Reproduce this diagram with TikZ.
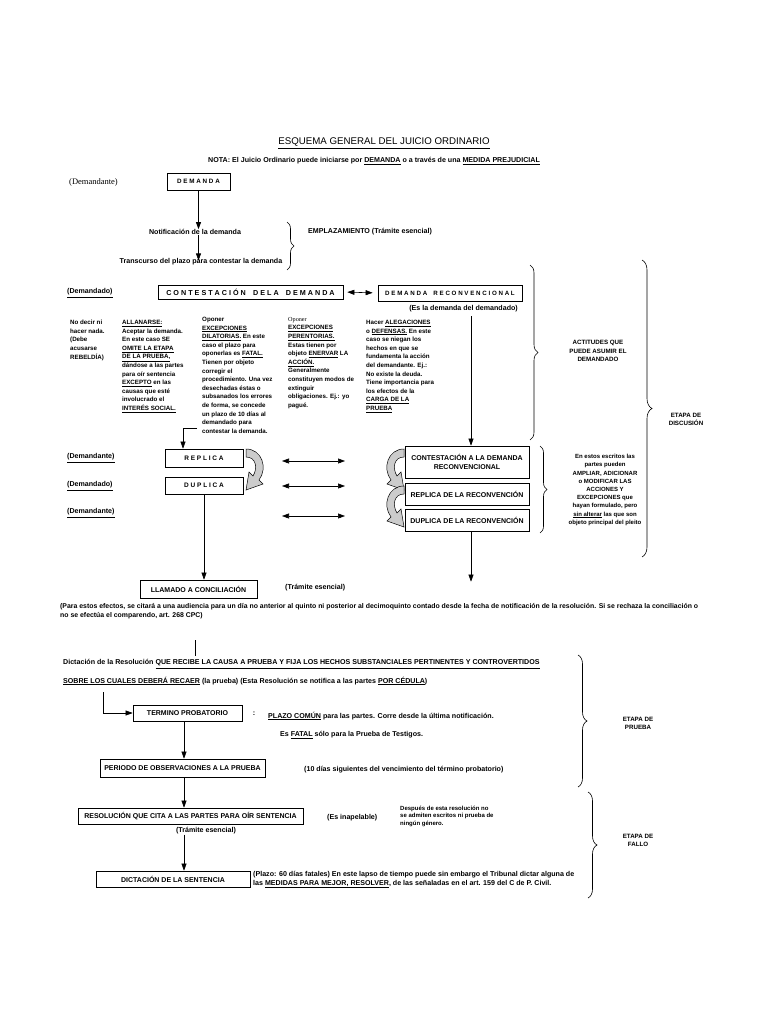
\documentclass[tikz,border=0pt]{standalone}
\usepackage{fontspec}
\setmainfont{Liberation Sans}
\newfontfamily\seriffam{Liberation Serif}
\usetikzlibrary{arrows.meta,decorations.pathreplacing}
\begin{document}
\begin{tikzpicture}[x=1pt,y=-1pt,
  sm/.style={font=\fontsize{6.2}{8.6}\selectfont\bfseries, inner sep=0pt, align=left},
  md/.style={font=\fontsize{7.1}{8.6}\selectfont\bfseries, inner sep=0pt, align=left},
  smc/.style={font=\fontsize{6.2}{8.2}\selectfont\bfseries, inner sep=0pt, align=center},
  bx/.style={draw, line width=0.7pt, inner sep=0pt, align=center, font=\fontsize{7}{8.5}\selectfont\bfseries},
  arr/.style={-{Triangle[length=7pt,width=5pt]}, line width=0.6pt},
  darr/.style={{Triangle[length=7pt,width=5pt]}-{Triangle[length=7pt,width=5pt]}, line width=0.6pt},
  ln/.style={line width=0.6pt},
  brc/.style={decorate, decoration={brace, amplitude=7pt}, line width=0.6pt},
  curv/.style={fill=gray!40, draw=black, line width=0.5pt},
]
\path[use as bounding box, fill=white] (0,0) rectangle (768,1024);

% title
\node[font=\fontsize{9.7}{10}\selectfont, inner sep=0pt] (title) at (384,143) {\underline{ESQUEMA GENERAL DEL JUICIO ORDINARIO}};
\node[md, anchor=west] (nota) at (208,161) {NOTA: El Juicio Ordinario puede iniciarse por \underline{DEMANDA} o a través de una \underline{MEDIDA PREJUDICIAL}};

% demanda
\node[font=\seriffam\fontsize{8.5}{9}\selectfont, anchor=west, inner sep=0pt] (dte0) at (69,182) {(Demandante)};
\node[bx, minimum width=63, minimum height=17, font=\fontsize{6.3}{8}\selectfont\bfseries] (dem) at (198.5,181.5) {D E M A N D A};
\node[md, anchor=center] (notif) at (195,232) {Notificación de la demanda};
\node[md, anchor=center] (trans) at (201,262) {Transcurso del plazo para contestar la demanda};
\draw[arr] (dem.south) -- (dem.south |- notif.north);
\draw[arr] (dem.south |- notif.south) -- ([yshift=-2pt]dem.south |- trans.north);
\coordinate (e1) at (287,222);
\coordinate (e2) at (287,270);
\draw[brc] (e1) -- (e2);
\node[md, anchor=west] (empl) at (308,232) {EMPLAZAMIENTO (Trámite esencial)};

% contestacion
\node[md, anchor=west] (ddo1) at (67,293) {\underline{(Demandado)}};
\node[bx, minimum width=185, minimum height=14, font=\fontsize{7.2}{8}\selectfont\bfseries] (cont) at (250.5,292) {C O N T E S T A C I Ó N\quad D E L A\quad D E M A N D A};
\node[bx, minimum width=144, minimum height=16, font=\fontsize{6.2}{8}\selectfont\bfseries] (recon) at (450,293) {D E M A N D A\quad R E C O N V E N C I O N A L};
\draw[darr, shorten <=4pt, shorten >=5pt] (cont.east) -- (recon.west);
\node[md, anchor=east] (esla) at (518,309) {(Es la demanda del demandado)};

% columns
\node[sm, anchor=north west] (c1) at (70,320) {No decir ni\\hacer nada.\\(Debe\\acusarse\\REBELDÍA)};
\node[sm, anchor=north west] (c2) at (122,320) {\underline{ALLANARSE:}\\Aceptar la demanda.\\En este caso SE\\\underline{OMITE LA ETAPA}\\\underline{DE LA PRUEBA,}\\dándose a las partes\\para oír sentencia\\\underline{EXCEPTO} en las\\causas que esté\\involucrado el\\\underline{INTERÉS SOCIAL.}};
\node[sm, anchor=north west] (c3) at (202,317) {Oponer\\\underline{EXCEPCIONES}\\\underline{DILATORIAS.} En este\\caso el plazo para\\oponerlas es \underline{FATAL.}\\Tienen por objeto\\corregir el\\procedimiento. Una vez\\desechadas éstas o\\subsanados los errores\\de forma, se concede\\un plazo de 10 días al\\demandado para\\contestar la demanda.};
\node[sm, anchor=north west] (c4) at (288,317) {{\seriffam\mdseries Oponer}\\\underline{EXCEPCIONES}\\\underline{PERENTORIAS.}\\Estas tienen por\\objeto \underline{ENERVAR} LA\\\underline{ACCIÓN.}\\Generalmente\\constituyen modos de\\extinguir\\obligaciones. Ej.: yo\\pagué.};
\node[sm, anchor=north west] (c5) at (366,320) {Hacer \underline{ALEGACIONES}\\o \underline{DEFENSAS.} En este\\caso se niegan los\\hechos en que se\\fundamenta la acción\\del demandante. Ej.:\\No existe la deuda.\\Tiene importancia para\\los efectos de la\\\underline{CARGA DE LA}\\\underline{PRUEBA}};

% actitudes brace
\coordinate (a1) at (530,265);
\coordinate (a2) at (530,440);
\draw[brc, decoration={amplitude=8pt}] (a1) -- (a2);
\node[smc] (act) at (598,351) {ACTITUDES QUE\\PUEDE ASUMIR EL\\DEMANDADO};

% discusion brace
\coordinate (d1) at (642,260);
\coordinate (d2) at (642,557);
\draw[brc, decoration={amplitude=10pt}] (d1) -- (d2);
\node[smc] (disc) at (686,419) {ETAPA DE\\DISCUSIÓN};

% replica / duplica
\node[md, anchor=west] (dte1) at (67,458) {\underline{(Demandante)}};
\node[md, anchor=west] (ddo2) at (67,486) {\underline{(Demandado)}};
\node[md, anchor=west] (dte2) at (67,513) {\underline{(Demandante)}};
\node[bx, minimum width=78, minimum height=18, font=\fontsize{6.5}{8}\selectfont\bfseries] (rep) at (204,458) {R E P L I C A};
\node[bx, minimum width=78, minimum height=17, font=\fontsize{6.5}{8}\selectfont\bfseries] (dup) at (204,485.5) {D U P L I C A};
\coordinate (k1) at (197,428);
\coordinate (k2) at (183,428);
\draw[arr] (k1) -- (k2) -- (k2 |- rep.north);

\node[bx, minimum width=124, minimum height=32] (crec) at (467,462) {CONTESTACIÓN A LA DEMANDA\\RECONVENCIONAL};
\node[bx, minimum width=124, minimum height=22] (rrec) at (467,494) {REPLICA DE LA RECONVENCIÓN};
\node[bx, minimum width=124, minimum height=22] (drec) at (467,520) {DUPLICA DE LA RECONVENCIÓN};
\coordinate (r1) at (471,316);
\draw[arr] (r1) -- (r1 |- crec.north);

\coordinate (h1l) at (282,461); \coordinate (h1r) at (345,461);
\coordinate (h2l) at (282,486); \coordinate (h2r) at (345,486);
\coordinate (h3l) at (282,516); \coordinate (h3r) at (345,516);
\draw[darr] (h1l) -- (h1r);
\draw[darr] (h2l) -- (h2r);
\draw[darr] (h3l) -- (h3r);

% curved arrows
\begin{scope}[shift={(246,449)}]
\draw[curv] (0,0) .. controls (16,0) and (22,19) .. (13,31) -- (17,35) -- (0,41) -- (3,23) -- (7,27) .. controls (12,19) and (10,8) .. (0,8) -- cycle;
\end{scope}
\begin{scope}[shift={(404,449)}, xscale=-1]
\draw[curv] (0,0) .. controls (16,0) and (22,19) .. (13,31) -- (17,35) -- (0,41) -- (3,23) -- (7,27) .. controls (12,19) and (10,8) .. (0,8) -- cycle;
\end{scope}
\begin{scope}[shift={(404,486)}, xscale=-1]
\draw[curv] (0,0) .. controls (16,0) and (22,19) .. (13,31) -- (17,35) -- (0,41) -- (3,23) -- (7,27) .. controls (12,19) and (10,8) .. (0,8) -- cycle;
\end{scope}

% en estos brace
\coordinate (s1) at (540,446);
\coordinate (s2) at (540,533);
\draw[brc] (s1) -- (s2);
\node[font=\fontsize{6}{8.2}\selectfont\bfseries, inner sep=0pt, align=center] (estos) at (605,490) {En estos escritos las\\partes pueden\\AMPLIAR, ADICIONAR\\o MODIFICAR LAS\\ACCIONES Y\\EXCEPCIONES que\\hayan formulado, pero\\\underline{sin alterar} las que son\\objeto principal del pleito};

% conciliacion
\node[bx, minimum width=117, minimum height=18] (llam) at (198.5,589) {LLAMADO A CONCILIACIÓN};
\draw[arr] (dup.south) -- (dup.south |- llam.north);
\draw[arr] (drec.south -| r1) -- ([yshift=-2pt]r1 |- llam.north);
\node[md, anchor=west] (tram1) at (285,588) {(Trámite esencial)};
\node[font=\fontsize{6.9}{9}\selectfont\bfseries, inner sep=0pt, align=left, anchor=north west] (para) at (60,603) {(Para estos efectos, se citará a una audiencia para un día no anterior al quinto ni posterior al decimoquinto contado desde la fecha de notificación de la resolución. Si se rechaza la conciliación o\\no se efectúa el comparendo, art. 268 CPC)};
\coordinate (v1) at (195,640);
\coordinate (v2) at (195,656);
\draw[ln] (v1) -- (v2);

% prueba
\node[md, anchor=west] (dic1) at (63,664) {Dictación de la Resolución \underline{QUE RECIBE LA CAUSA A PRUEBA Y FIJA LOS HECHOS SUBSTANCIALES PERTINENTES Y CONTROVERTIDOS}};
\node[md, anchor=west] (dic2) at (63,681) {\underline{SOBRE LOS CUALES DEBERÁ RECAER} (la prueba) (Esta Resolución se notifica a las partes \underline{POR CÉDULA})};
\node[bx, minimum width=109, minimum height=16] (tp) at (187.5,713) {TERMINO PROBATORIO};
\coordinate (t1) at (103,692);
\draw[arr] (t1) -- (t1 |- tp.west) -- (tp.west);
\node[md] (colon) at (254,714) {:};
\node[md, anchor=west] (plazo) at (268,716) {\underline{PLAZO COMÚN} para las partes. Corre desde la última notificación.};
\node[md, anchor=west] (fatal) at (280,735) {Es \underline{FATAL} sólo para la Prueba de Testigos.};
\node[bx, minimum width=165, minimum height=18] (per) at (182.5,768) {PERIODO DE OBSERVACIONES A LA PRUEBA};
\coordinate (x0) at (184,0);
\draw[arr] (x0 |- tp.south) -- (x0 |- per.north);
\node[md, anchor=west] (diez) at (304,770) {(10 días siguientes del vencimiento del término probatorio)};

\coordinate (p1) at (578,655);
\coordinate (p2) at (578,787);
\draw[brc, decoration={amplitude=9pt}] (p1) -- (p2);
\node[smc] (pru) at (638,723) {ETAPA DE\\PRUEBA};

% fallo
\node[bx, minimum width=225, minimum height=16] (res) at (190.5,816) {RESOLUCIÓN QUE CITA A LAS PARTES PARA OÍR SENTENCIA};
\draw[arr] (x0 |- per.south) -- (x0 |- res.north);
\node[md, anchor=west] (inap) at (327,818) {(Es inapelable)};
\node[font=\fontsize{6}{7.2}\selectfont\bfseries, inner sep=0pt, align=left, anchor=north west] (desp) at (400,806) {Después de esta resolución no\\se admiten escritos ni prueba de\\ningún género.};
\node[md] (tram2) at (206,831) {(Trámite esencial)};
\node[bx, minimum width=154, minimum height=16] (sent) at (173,879) {DICTACIÓN DE LA SENTENCIA};
\draw[arr] (x0 |- tram2.south) -- (x0 |- sent.north);
\node[md, anchor=north west] (plz) at (253,871) {(Plazo: 60 días fatales) En este lapso de tiempo puede sin embargo el Tribunal dictar alguna de\\las \underline{MEDIDAS PARA MEJOR, RESOLVER}, de las señaladas en el art. 159 del C de P. Civil.};

\coordinate (f1) at (588,792);
\coordinate (f2) at (588,898);
\draw[brc, decoration={amplitude=9pt}] (f1) -- (f2);
\node[smc] (fal) at (638,840) {ETAPA DE\\FALLO};
\end{tikzpicture}
\end{document}
